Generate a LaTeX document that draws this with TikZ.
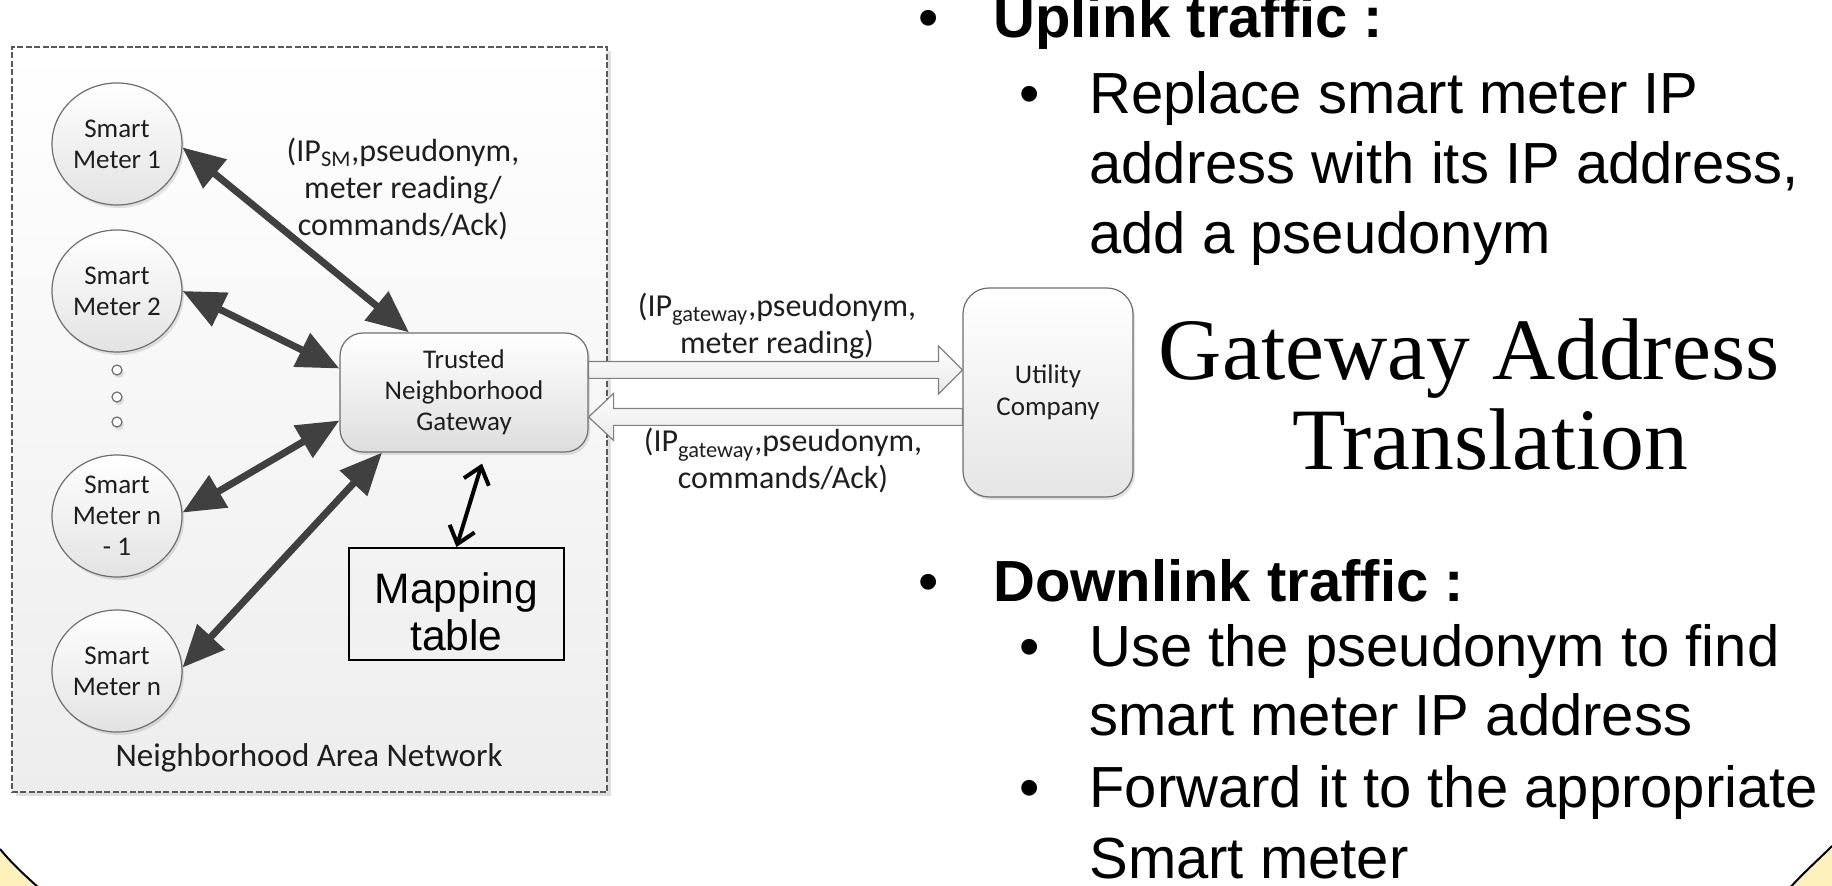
\documentclass[tikz,border=0pt]{standalone}
\usepackage{fontspec}
\newfontfamily\carl{Carlito}
\newfontfamily\arl{Liberation Sans}
\newfontfamily\tnr{Liberation Serif}
\usetikzlibrary{arrows.meta,shapes.geometric,shadows,calc}
\definecolor{darkarr}{HTML}{404040}
\definecolor{edgegray}{HTML}{6E6E6E}
\definecolor{sunyellow}{HTML}{FFF1BC}
\definecolor{txtgray}{HTML}{1E1E1E}
\begin{document}
\begin{tikzpicture}[x=0.5pt,y=-0.5pt,
  shad/.style={drop shadow={shadow xshift=1pt,shadow yshift=-1.5pt,opacity=0.22}},
  meter/.style={ellipse, draw=edgegray, line width=0.6pt, minimum width=65pt, minimum height=61pt,
    inner sep=0pt, top color=white, bottom color=black!11, shad,
    font=\carl\fontsize{13.5}{15.5}\selectfont, align=center, text=txtgray},
  dotc/.style={circle, draw=edgegray, line width=0.6pt, fill=white, minimum size=5pt, inner sep=0pt, shad},
  gwbox/.style={rectangle, rounded corners=11.5pt, draw=edgegray, line width=0.6pt,
    minimum width=124pt, minimum height=59.5pt, top color=white, bottom color=black!13, shad,
    font=\carl\fontsize{13.5}{15.5}\selectfont, align=center, text=txtgray},
  ucbox/.style={rectangle, rounded corners=13pt, draw=edgegray, line width=0.6pt,
    minimum width=85pt, minimum height=104.5pt, top color=white, bottom color=black!10, shad,
    font=\carl\fontsize{13.5}{16}\selectfont, align=center, text=txtgray},
  nanbox/.style={rectangle, draw=black!65, line width=0.6pt, dash pattern=on 3pt off 1.2pt,
    minimum width=297.5pt, minimum height=372.5pt, top color=white, bottom color=black!7,
    drop shadow={shadow xshift=1.8pt,shadow yshift=-1.8pt,opacity=0.25}},
  mapbox/.style={rectangle, draw=black, line width=1pt, minimum width=107.5pt, minimum height=56pt},
  lbl/.style={font=\carl\fontsize{16}{18.5}\selectfont, align=center, text=txtgray, inner sep=0pt},
  darr/.style={draw=darkarr, line width=3.5pt,
    {Triangle[length=21pt,width=18pt]}-{Triangle[length=21pt,width=18pt]}},
  marr/.style={draw=black, line width=2pt,
    {Straight Barb[length=8pt,width=13pt]}-{Straight Barb[length=8pt,width=13pt]}},
  blockarr/.style={draw=black!50, line width=0.6pt, top color=white, bottom color=black!9},
  rtxt/.style={anchor=base west, inner sep=0pt, font=\arl\fontsize{29}{35}\selectfont},
  rbold/.style={anchor=base west, inner sep=0pt, font=\arl\bfseries\fontsize{29}{35}\selectfont},
  bul/.style={anchor=base, inner sep=0pt, font=\arl\fontsize{29}{35}\selectfont},
  bigt/.style={anchor=base, inner sep=0pt, font=\tnr\fontsize{43.8}{46}\selectfont}
]
\useasboundingbox (0,0) rectangle (1832,886);

% yellow corner pieces
\begin{scope}
\clip (0,0) rectangle (1832,886);
\fill[sunyellow] (0,849) .. controls (14,866) and (27,877) .. (41,890) -- (-5,890) -- cycle;
\draw[line width=1pt] (0,849) .. controls (14,866) and (27,877) .. (41,890);
\fill[sunyellow] (1832,846) .. controls (1816,862) and (1802,874) .. (1788,890) -- (1840,890) -- cycle;
\draw[line width=1pt] (1832,846) .. controls (1816,862) and (1802,874) .. (1788,890);
\end{scope}

% neighborhood area network container
\node[nanbox] (nan) at (309.5,419.5) {};
\node[lbl, font=\carl\fontsize{16.5}{19}\selectfont] (nanlbl) at (309,758) {Neighborhood Area Network};

% smart meters
\node[meter] (sm1) at (117,144) {Smart\\Meter 1};
\node[meter] (sm2) at (117,291) {Smart\\Meter 2};
\node[dotc] (d1) at (117,370) {};
\node[dotc] (d2) at (117,397) {};
\node[dotc] (d3) at (117,422) {};
\node[meter] (smn1) at (117,516) {Smart\\Meter n\\- 1};
\node[meter] (smn) at (117,671) {Smart\\Meter n};

% gateway, mapping table, utility
\node[gwbox] (gw) at (464,392.5) {Trusted\\Neighborhood\\Gateway};
\node[mapbox] (mt) at (456.5,604) {};
\node[inner sep=0pt, align=center, font=\arl\fontsize{21.3}{23.5}\selectfont] (mtlbl) at (456.5,612) {Mapping\\table};
\node[ucbox] (uc) at (1048,392.5) {Utility\\Company};

% labels
\node[lbl] (smlbl) at (403,189) {(IP\textsubscript{SM},pseudonym,\\meter reading/\\commands/Ack)};
\node[lbl] (uplbl) at (777,326) {(IP\textsubscript{gateway},pseudonym,\\meter reading)};
\node[lbl] (dnlbl) at (783,461) {(IP\textsubscript{gateway},pseudonym,\\commands/Ack)};

% dark double arrows
\draw[darr] (sm1.-3) -- ([xshift=-27.5pt]gw.north);
\draw[darr] (sm2.0) -- ([yshift=12pt]gw.west);
\draw[darr] (smn1.3) -- ([yshift=-14pt]gw.west);
\draw[darr] (smn.3) -- ([xshift=-41pt]gw.south);

% mapping arrow
\draw[marr] ([xshift=9pt,yshift=-5.5pt]gw.south) -- (mt.north);

% block arrows
\coordinate (ua) at ([yshift=11.25pt]gw.east);
\coordinate (ub) at ([yshift=11.25pt]uc.west);
\path[blockarr] ($(ua)+(0,4.2pt)$) -- ($(ub)+(-12pt,4.2pt)$) -- ($(ub)+(-12pt,12pt)$) -- (ub)
  -- ($(ub)+(-12pt,-12pt)$) -- ($(ub)+(-12pt,-4.2pt)$) -- ($(ua)+(0,-4.2pt)$) -- cycle;
\coordinate (la) at ([yshift=-12.25pt]uc.west);
\coordinate (lb) at ([yshift=-12.25pt]gw.east);
\path[blockarr] ($(la)+(0,4.2pt)$) -- ($(lb)+(12.5pt,4.2pt)$) -- ($(lb)+(12.5pt,11.75pt)$) -- (lb)
  -- ($(lb)+(12.5pt,-11.75pt)$) -- ($(lb)+(12.5pt,-4.2pt)$) -- ($(la)+(0,-4.2pt)$) -- cycle;

% right-hand text
\node[bul] (b1) at (929,38) {•};
\node[rbold] (t1) at (993,38) {Uplink traffic :};
\node[bul] (b2) at (1030,114) {•};
\node[rtxt] (t2) at (1089,114) {Replace smart meter IP};
\node[rtxt] (t3) at (1089,184) {address with its IP address,};
\node[rtxt] (t4) at (1089,254) {add a pseudonym};

\node[bigt] (g1) at (1469,380) {Gateway Address};
\node[bigt] (g2) at (1490,470) {Translation};

\node[bul] (b3) at (929,602) {•};
\node[rbold] (t5) at (993,602) {Downlink traffic :};
\node[bul] (b4) at (1030,667) {•};
\node[rtxt] (t6) at (1089,667) {Use the pseudonym to find};
\node[rtxt] (t7) at (1089,736) {smart meter IP address};
\node[bul] (b5) at (1030,808) {•};
\node[rtxt] (t8) at (1089,808) {Forward it to the appropriate};
\node[rtxt] (t9) at (1089,879) {Smart meter};
\end{tikzpicture}
\end{document}
